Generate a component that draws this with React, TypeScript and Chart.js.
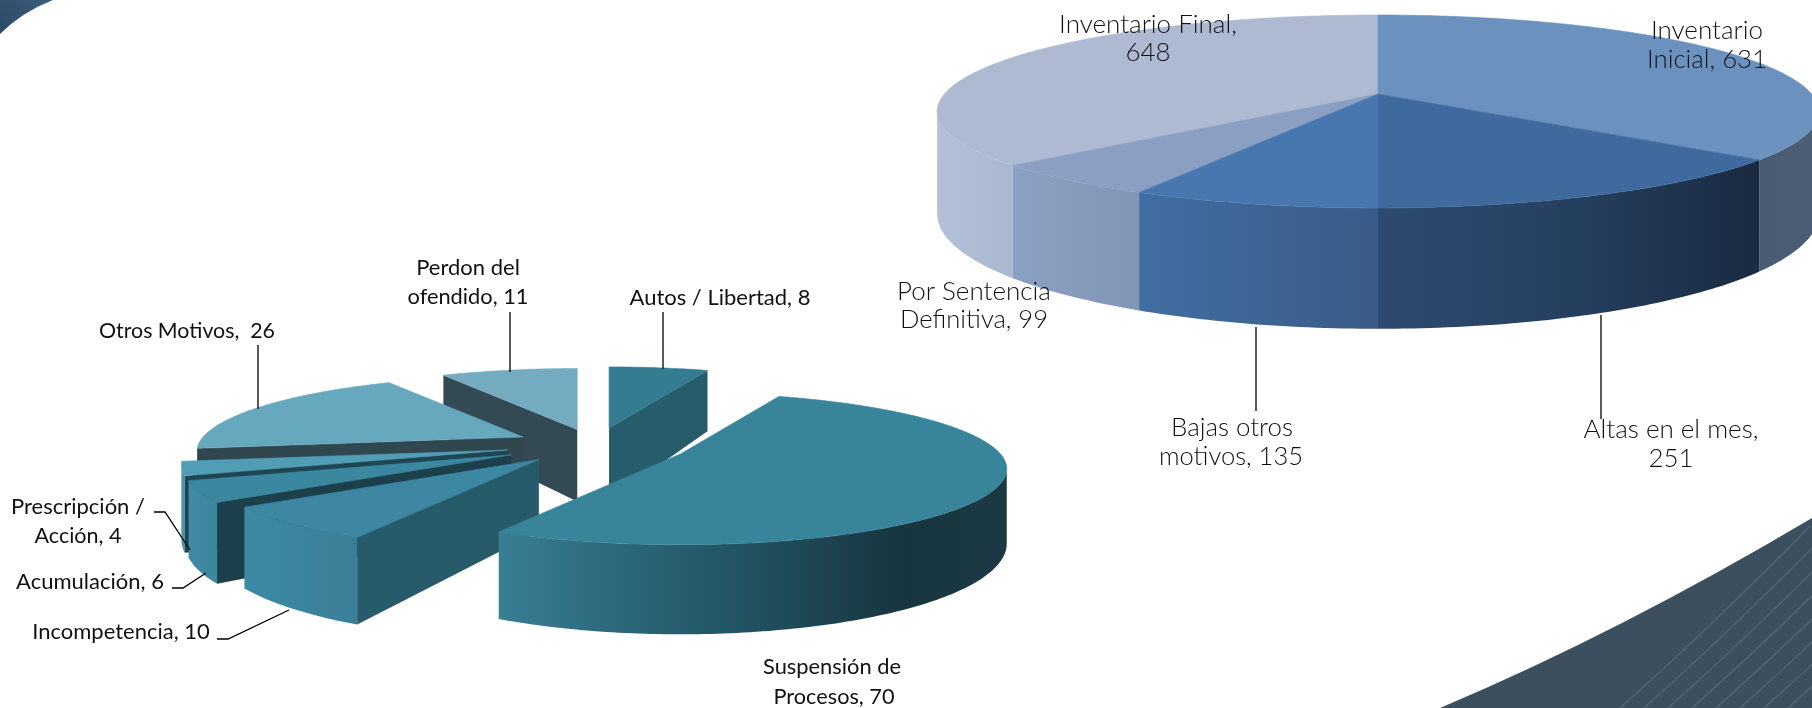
import React, { useEffect, useRef } from "react";
import { Chart, registerables } from "chart.js";

Chart.register(...registerables);

// ---- data ----
const leftCategories = ["Autos / Libertad", "Suspensión de Procesos", "Incompetencia", "Acumulación", "Prescripción / Acción", "Otros Motivos", "Perdon del ofendido"];
const leftValues = [8, 70, 10, 6, 4, 26, 11];
const rightCategories = ["Inventario Inicial", "Altas en el mes", "Bajas otros motivos", "Por Sentencia Definitiva", "Inventario Final"];
const rightValues = [631, 251, 135, 99, 648];

// ---- styles ----
const leftTop = ["#337c92", "#38849b", "#3d87a2", "#3b87a0", "#529db6", "#66a8be", "#75abc1"];
const leftCut = ["#265c6c", "#265c6c", "#285b6a", "#1b3f4b", "#1d4552", "#30474f", "#334a54"];
const leftWall: string[][] = [
  ["#265c6c", "#265c6c"],
  ["#397f94", "#2f6b7f", "#255a6b", "#1e4854", "#17353f", "#1c3a44"],
  ["#3c8aa4", "#3a7f97"],
  ["#3f8aa4", "#3d86a0"],
  ["#4d97b1", "#4a92ab"],
  ["#30474f", "#30474f"],
  ["#334a54", "#334a54"],
];
const rightTop = ["#6b92bf", "#3f6a9e", "#4877b0", "#8a9fc2", "#aebad2"];
const rightWall: string[][] = [
  ["#4a5b74", "#4d5d75"],
  ["#2d4a72", "#25405f", "#1a2a41"],
  ["#416ea3", "#3a5b87"],
  ["#8ba1c3", "#8195b5"],
  ["#b4c0d6", "#aab7cf"],
];

type Lbl = { lines: [string, number, number, number][] };
type Scene = {
  cx: number; cy: number; R: number; K: number; p: number; h: number;
  explode: number[]; top: string[]; wall: string[][]; cut: string[] | null; order: number[];
  font: string; labels: Lbl[]; leaders: number[][][];
};

const leftScene: Scene = {
  cx: 595, cy: 445, R: 320, K: 73, p: 0.196, h: 72,
  explode: [76, 94, 85, 94, 90, 80, 70],
  top: leftTop, wall: leftWall, cut: leftCut,
  order: [6, 5, 4, 3, 2, 0, 1],
  font: '22px Lato, "Open Sans", sans-serif',
  labels: [
    { lines: [["Perdon del", 468, 268, 105], ["ofendido, 11", 468, 297, 121]] },
    { lines: [["Autos / Libertad, 8", 720, 298, 181]] },
    { lines: [["Otros Motivos,  26", 187, 331, 176]] },
    { lines: [["Prescripción /", 78, 507, 134], ["Acción, 4", 78, 536, 87]] },
    { lines: [["Acumulación, 6", 90, 582, 149]] },
    { lines: [["Incompetencia, 10", 121, 632, 180]] },
    { lines: [["Suspensión de", 832, 667, 138], ["Procesos, 70", 834, 697, 121]] },
  ],
  leaders: [
    [[258, 345], [258, 409]],
    [[510, 312], [510, 372]],
    [[663, 312], [663, 369]],
    [[154, 512], [165, 512], [190, 550]],
    [[172, 588], [183, 588], [206, 573]],
    [[217, 639], [228, 639], [289, 610]],
  ],
};

const rightScene: Scene = {
  cx: 1378, cy: 94, R: 433.6, K: 93.3, p: 0.181, h: 99,
  explode: [0, 0, 0, 0, 0],
  top: rightTop, wall: rightWall, cut: null,
  order: [4, 0, 3, 1, 2],
  font: '300 26px Lato, "Open Sans", sans-serif',
  labels: [
    { lines: [["Inventario Final,", 1148, 25, 185], ["648", 1148, 53, 45]] },
    { lines: [["Inventario", 1707, 31, 119], ["Inicial, 631", 1707, 60, 120]] },
    { lines: [["Por Sentencia", 974, 292, 162], ["Definitiva, 99", 974, 320, 148]] },
    { lines: [["Bajas otros", 1232, 428, 122], ["motivos, 135", 1231, 457, 144]] },
    { lines: [["Altas en el mes,", 1671, 430, 181], ["251", 1671, 459, 45]] },
  ],
  leaders: [
    [[1256, 327], [1256, 411]],
    [[1601, 315], [1601, 419]],
  ],
};

function drawDecor(ctx: CanvasRenderingContext2D) {
  ctx.save();
  ctx.fillStyle = "#ffffff";
  ctx.fillRect(0, 0, 1812, 708);
  // top-left corner band
  const g = ctx.createLinearGradient(0, 30, 50, 0);
  g.addColorStop(0, "#2c4a68");
  g.addColorStop(1, "#3c5d7c");
  ctx.fillStyle = g;
  ctx.beginPath();
  ctx.moveTo(0, 0);
  ctx.lineTo(53, 0);
  ctx.quadraticCurveTo(22, 12, 0, 34);
  ctx.closePath();
  ctx.fill();
  // bottom-right swoosh
  ctx.beginPath();
  ctx.moveTo(1440, 708);
  ctx.quadraticCurveTo(1620, 632, 1812, 518);
  ctx.lineTo(1812, 708);
  ctx.closePath();
  ctx.fillStyle = "#3c4f5f";
  ctx.fill();
  ctx.clip();
  ctx.strokeStyle = "#4f6475";
  ctx.lineWidth = 1.5;
  for (let k = 0; k < 9; k++) {
    const x0 = 1620 + k * 24;
    ctx.beginPath();
    ctx.moveTo(x0, 708);
    ctx.quadraticCurveTo(x0 + 90, 628, x0 + 190, 526);
    ctx.stroke();
  }
  ctx.restore();
}

function makePie3d(scene: Scene, decor: boolean) {
  return {
    id: "pie3d",
    beforeDraw(chart: any) {
      if (decor) drawDecor(chart.ctx);
    },
    beforeDatasetsDraw(chart: any) {
      const ctx: CanvasRenderingContext2D = chart.ctx;
      const arcs = chart.getDatasetMeta(0).data;
      const { cx, cy, R, K, p, h } = scene;
      // the wall faces the viewer only between the two silhouette angles
      const frontA = Math.PI - Math.acos(p);
      const frontB = Math.PI + Math.acos(p);
      ctx.save();
      for (const i of scene.order) {
        const arc = arcs[i];
        const a0 = arc.startAngle + Math.PI / 2;
        const a1 = arc.endAngle + Math.PI / 2;
        const mid = (a0 + a1) / 2;
        const e = scene.explode[i];
        const ax = cx + e * Math.sin(mid);
        const ay = cy - (e * Math.cos(mid) * K) / R;
        const project = (t: number) => {
          const u = Math.sin(t);
          const v = -Math.cos(t);
          const w = 1 / (1 - p * v);
          return { x: ax + R * u * w, y: ay + K * v * w, d: h * w };
        };
        const sample = (s0: number, s1: number) => {
          const steps = Math.max(8, Math.ceil((s1 - s0) * 60));
          const out: { x: number; y: number; d: number }[] = [];
          for (let s = 0; s <= steps; s++) out.push(project(s0 + ((s1 - s0) * s) / steps));
          return out;
        };
        const rim = sample(a0, a1);

        // outer wall (visible part of the rim only)
        const w0 = Math.max(a0, frontA);
        const w1 = Math.min(a1, frontB);
        if (w1 > w0) {
          const band = sample(w0, w1);
          const xs = band.map((q) => q.x);
          const stops = scene.wall[i];
          const grad = ctx.createLinearGradient(Math.min(...xs), 0, Math.max(...xs), 0);
          stops.forEach((c, n) => grad.addColorStop(n / (stops.length - 1), c));
          ctx.fillStyle = grad;
          ctx.beginPath();
          band.forEach((q, n) => (n ? ctx.lineTo(q.x, q.y) : ctx.moveTo(q.x, q.y)));
          for (let n = band.length - 1; n >= 0; n--) ctx.lineTo(band[n].x, band[n].y + band[n].d);
          ctx.closePath();
          ctx.fill();
        }

        // visible cut face of an exploded slice
        if (scene.cut && i !== 1) {
          const q = Math.sin(mid) > 0 ? rim[rim.length - 1] : rim[0];
          ctx.fillStyle = scene.cut[i];
          ctx.beginPath();
          ctx.moveTo(q.x, q.y);
          ctx.lineTo(ax, ay);
          ctx.lineTo(ax, ay + h);
          ctx.lineTo(q.x, q.y + q.d);
          ctx.closePath();
          ctx.fill();
        }

        // top surface
        ctx.fillStyle = arc.options.backgroundColor;
        ctx.strokeStyle = arc.options.backgroundColor;
        ctx.lineWidth = 0.6;
        ctx.beginPath();
        ctx.moveTo(ax, ay);
        rim.forEach((q) => ctx.lineTo(q.x, q.y));
        ctx.closePath();
        ctx.fill();
        ctx.stroke();
      }

      // leader lines
      ctx.strokeStyle = "#000000";
      ctx.lineWidth = 1.3;
      for (const l of scene.leaders) {
        ctx.beginPath();
        l.forEach(([x, y], n) => (n ? ctx.lineTo(x, y) : ctx.moveTo(x, y)));
        ctx.stroke();
      }

      // labels
      ctx.fillStyle = "#111111";
      ctx.font = scene.font;
      ctx.textAlign = "center";
      ctx.textBaseline = "middle";
      for (const l of scene.labels) {
        for (const [t, x, y, mw] of l.lines) ctx.fillText(t, x, y, mw);
      }
      ctx.restore();
      return false;
    },
  };
}

function makeChart(canvas: HTMLCanvasElement, labels: string[], values: number[], scene: Scene, decor: boolean) {
  return new Chart(canvas, {
    type: "pie",
    data: { labels, datasets: [{ data: values, backgroundColor: scene.top, borderWidth: 0 }] },
    options: {
      responsive: false,
      animation: false,
      rotation: 0,
      plugins: { legend: { display: false }, tooltip: { enabled: false } },
    },
    plugins: [makePie3d(scene, decor)],
  } as any);
}

const layer: React.CSSProperties = { position: "absolute", left: 0, top: 0, display: "block" };

export default function App() {
  const a = useRef<HTMLCanvasElement>(null);
  const b = useRef<HTMLCanvasElement>(null);
  useEffect(() => {
    document.body.style.margin = "0";
    const c1 = makeChart(a.current!, leftCategories, leftValues, leftScene, true);
    const c2 = makeChart(b.current!, rightCategories, rightValues, rightScene, false);
    return () => {
      c1.destroy();
      c2.destroy();
    };
  }, []);
  return (
    <div style={{ position: "absolute", left: 0, top: 0, width: 1812, height: 708, overflow: "hidden", background: "#fff" }}>
      <canvas ref={a} width={1812} height={708} style={layer} />
      <canvas ref={b} width={1812} height={708} style={layer} />
    </div>
  );
}
